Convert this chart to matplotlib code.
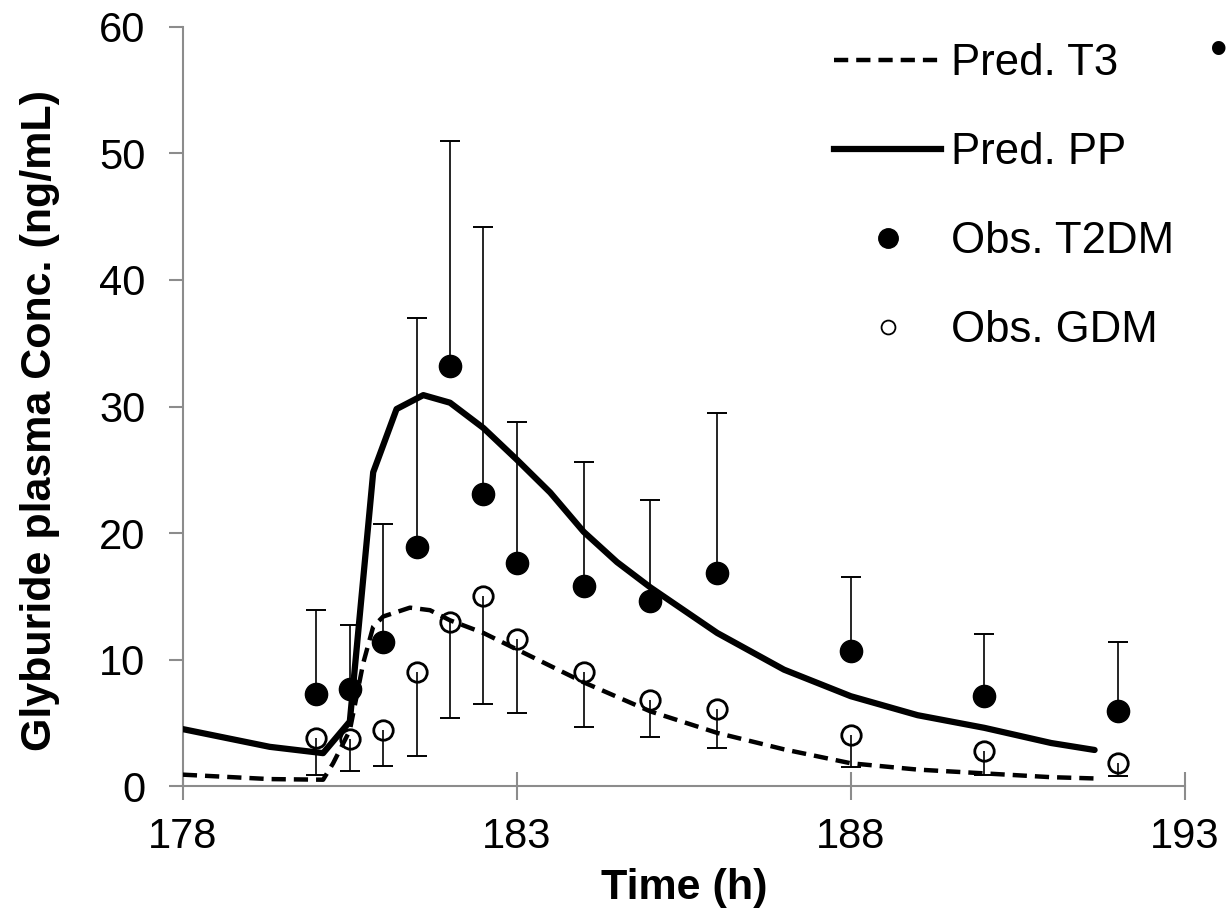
import matplotlib; matplotlib.use("Agg")
import matplotlib.pyplot as plt
from matplotlib.lines import Line2D

plt.rcParams['font.family'] = ['Liberation Sans', 'DejaVu Sans']

# ---- data ----
t_pp = [178, 179.3, 180.1, 180.5, 180.85, 181.2, 181.6, 182.0, 182.5, 183, 183.5,
        184, 184.5, 185, 185.5, 186, 187, 188, 189, 190, 191, 191.65]
pred_pp = [4.5, 3.1, 2.6, 5.1, 24.8, 29.8, 30.9, 30.3, 28.3, 25.8, 23.2,
           20.1, 17.7, 15.7, 13.9, 12.1, 9.2, 7.1, 5.6, 4.6, 3.4, 2.85]

t_t3 = [178, 179.3, 180.1, 180.25, 180.5, 180.7, 180.85, 181.0, 181.4, 181.7, 182.0,
        182.5, 183, 184, 185, 186, 187, 188, 189, 190, 191, 191.65]
pred_t3 = [0.9, 0.55, 0.5, 1.8, 4.4, 9.7, 12.6, 13.4, 14.1, 13.9, 13.1,
           12.1, 10.8, 8.2, 5.9, 4.2, 2.9, 1.8, 1.3, 1.0, 0.7, 0.6]

t_obs = [180, 180.5, 181, 181.5, 182, 182.5, 183, 184, 185, 186, 188, 190, 192]
obs_t2dm = [7.3, 7.7, 11.4, 18.9, 33.2, 23.1, 17.6, 15.8, 14.6, 16.8, 10.7, 7.1, 5.9]
t2dm_top = [13.9, 12.7, 20.7, 37.0, 51.0, 44.2, 28.8, 25.6, 22.6, 29.5, 16.5, 12.0, 11.4]
obs_gdm = [3.8, 3.7, 4.4, 9.0, 13.0, 15.0, 11.6, 9.0, 6.8, 6.1, 4.0, 2.8, 1.8]
gdm_bottom = [0.9, 1.2, 1.6, 2.4, 5.4, 6.5, 5.8, 4.7, 3.9, 3.0, 1.5, 0.9, 0.8]

x_ticks = [178, 183, 188, 193]
y_ticks = [0, 10, 20, 30, 40, 50, 60]

fig = plt.figure(figsize=(12.27, 9.14), dpi=100)
ax = fig.add_axes([0.149, 0.140, 0.8166, 0.8305])

# error bars (one-sided)
ax.vlines(t_obs, obs_t2dm, t2dm_top, color="black", lw=1.2, zorder=2)
ax.plot(t_obs, t2dm_top, ls="none", marker="_", ms=14, mew=1.4, color="black", zorder=2)
ax.vlines(t_obs, gdm_bottom, obs_gdm, color="black", lw=1.2, zorder=2)
ax.plot(t_obs, gdm_bottom, ls="none", marker="_", ms=14, mew=1.4, color="black", zorder=2)

ax.plot(t_t3, pred_t3, color="black", lw=3.2, dashes=(3.2, 1.8), zorder=3)
ax.plot(t_pp, pred_pp, color="black", lw=4.5, solid_capstyle="round", zorder=3)
ax.plot(t_obs, obs_t2dm, ls="none", marker="o", ms=16, color="black", zorder=4)
ax.plot(t_obs, obs_gdm, ls="none", marker="o", ms=14, mfc="none", mec="black", mew=2, zorder=4)

ax.set_xlim(178, 193)
ax.set_ylim(0, 60)
ax.set_xticks(x_ticks)
ax.set_yticks(y_ticks)
for s in ["top", "right"]:
    ax.spines[s].set_visible(False)
for s in ["left", "bottom"]:
    ax.spines[s].set_color("#8c8c8c")
    ax.spines[s].set_linewidth(1.5)
ax.tick_params(axis="x", direction="inout", length=20, width=1.5, color="#8c8c8c",
               labelsize=30, pad=12)
ax.tick_params(axis="y", direction="out", length=10, width=1.5, color="#8c8c8c",
               labelsize=30, pad=17)
ax.set_xlabel("Time (h)", fontsize=31, fontweight="bold", labelpad=8)
ax.set_ylabel("Glyburide plasma Conc. (ng/mL)", fontsize=31, fontweight="bold")
ax.yaxis.set_label_coords(-0.123, 0.482)

handles = [
    Line2D([], [], color="black", lw=3.2, dashes=(3.2, 1.8)),
    Line2D([], [], color="black", lw=4.5),
    Line2D([], [], ls="none", marker="o", ms=14, color="black"),
    Line2D([], [], ls="none", marker="o", ms=10, mfc="none", mec="black", mew=1.3),
]
labels = ["Pred. T3", "Pred. PP", "Obs. T2DM", "Obs. GDM"]
fig.legend(handles, labels, loc="upper left", bbox_to_anchor=(834 / 1227, 1 - 43 / 914),
           frameon=False, fontsize=31.5, handlelength=2.45, handletextpad=0.22,
           labelspacing=1.1, borderaxespad=0, borderpad=0)

fig.text(1219 / 1227, 1 - 52 / 914, "•", fontsize=36, ha="center", va="center")

fig.savefig("out.png", dpi=100)
